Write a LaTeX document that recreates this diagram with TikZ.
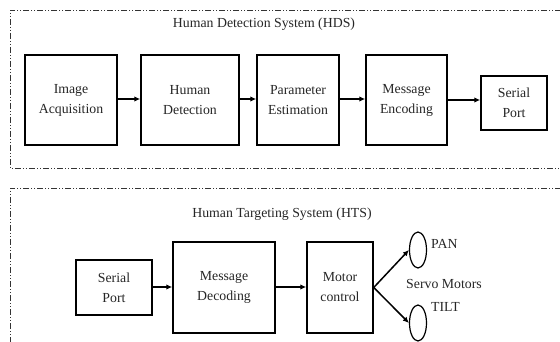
\documentclass[tikz,border=0pt]{standalone}
\usepackage{fontspec}
\setmainfont{Liberation Serif}
\usetikzlibrary{arrows.meta,shapes.geometric}
\begin{document}
\begin{tikzpicture}[x=1pt,y=-1pt,
  blk/.style={draw=black,line width=1.5pt,align=center,inner sep=0pt,
    font=\rmfamily\fontsize{13.8}{20}\selectfont,text=black!85},
  lbl/.style={inner sep=0pt,font=\rmfamily\fontsize{13.8}{16}\selectfont,text=black!85},
  arr/.style={line width=1.5pt,-{Latex[length=6pt,width=5.5pt]}},
  frame/.style={draw=black!80,line width=0.8pt,
    dash pattern=on 6pt off 2pt on 1pt off 2pt on 1pt off 2pt},
  servo/.style={draw=black,line width=1.2pt,ellipse,minimum width=17pt,minimum height=36pt,inner sep=0pt}]
\useasboundingbox (0,0) rectangle (560,342);
\fill[white] (0,0) rectangle (560,342);
% frames
\draw[frame] (575,10) -- (10,10) -- (10,168) -- (575,168);
\draw[frame] (575,188) -- (10,188) -- (10,350);
% HDS
\node[lbl] (hds) at (264,24) {Human Detection System (HDS)};
\node[blk,minimum width=92pt,minimum height=90pt] (ia) at (71,100) {Image\\Acquisition};
\node[blk,minimum width=98pt,minimum height=90pt] (hd) at (190,100) {Human\\Detection};
\node[blk,minimum width=82pt,minimum height=90pt] (pe) at (298,100) {Parameter\\Estimation};
\node[blk,minimum width=81pt,minimum height=90pt] (me) at (406.5,100) {Message\\Encoding};
\node[blk,minimum width=66pt,minimum height=54pt] (sp1) at (514,103) {Serial\\Port};
\draw[arr] (ia.east |- 0,99) -- (hd.west |- 0,99);
\draw[arr] (hd.east |- 0,99) -- (pe.west |- 0,99);
\draw[arr] (pe.east |- 0,99) -- (me.west |- 0,99);
\draw[arr] (me.east |- 0,100) -- (sp1.west |- 0,100);
% HTS
\node[lbl] (hts) at (282,214) {Human Targeting System (HTS)};
\node[blk,minimum width=76pt,minimum height=55pt] (sp2) at (114,287.5) {Serial\\Port};
\node[blk,minimum width=102pt,minimum height=91pt] (md) at (224,287.5) {Message\\Decoding};
\node[blk,minimum width=66pt,minimum height=91pt] (mc) at (340,287.5) {Motor\\control};
\draw[arr] (sp2.east |- 0,287) -- (md.west |- 0,287);
\draw[arr] (md.east |- 0,287) -- (mc.west |- 0,287);
\node[servo] (pan) at (418,250) {};
\node[servo] (tilt) at (418,323) {};
\draw[arr] (mc.east) -- (pan.west);
\draw[arr] (mc.east) -- (tilt.west);
\node[lbl,anchor=west] (panl) at (431,244) {PAN};
\node[lbl] (sm) at (444,284) {Servo Motors};
\node[lbl,anchor=west] (tiltl) at (431,307) {TILT};
\end{tikzpicture}
\end{document}
